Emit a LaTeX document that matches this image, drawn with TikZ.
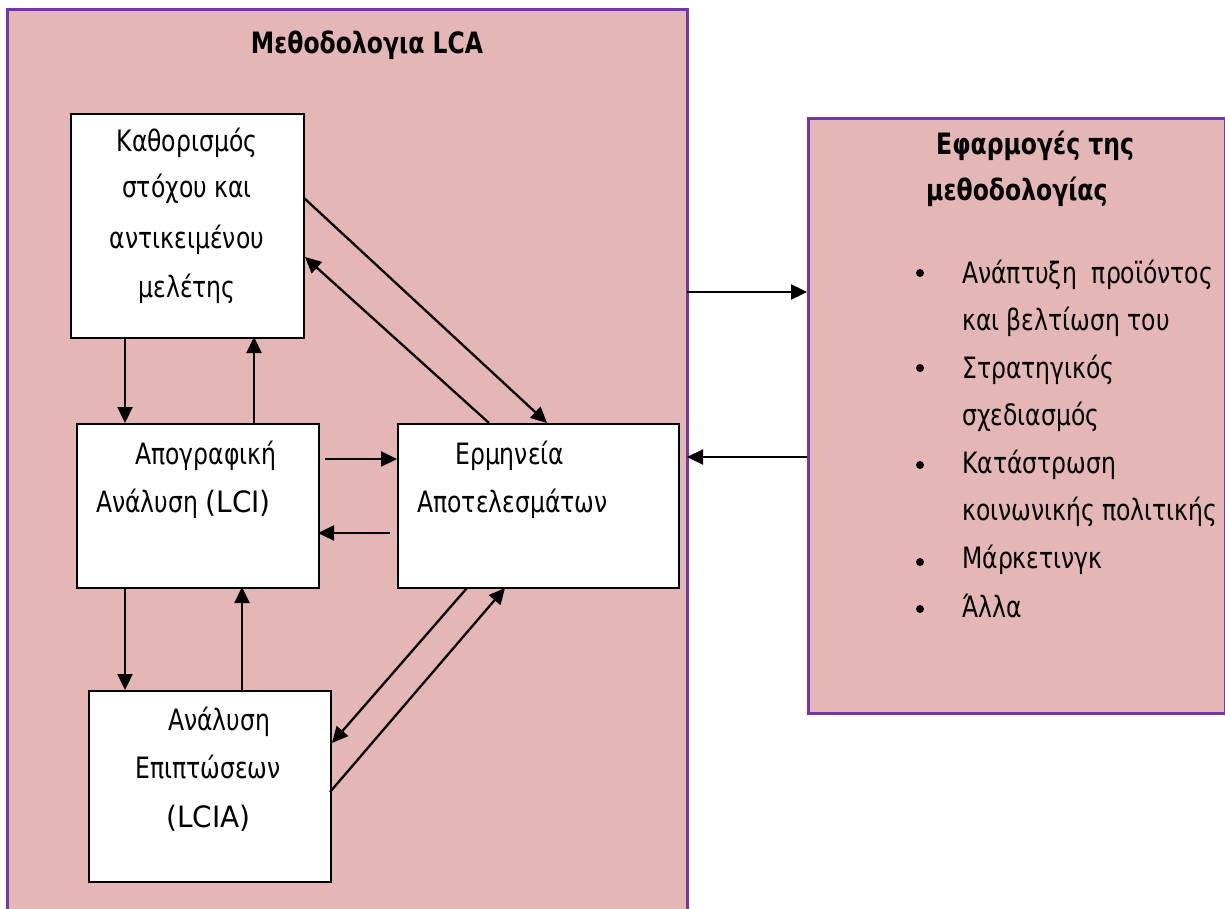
\documentclass[tikz,border=0pt]{standalone}
\usepackage{fontspec}
\setmainfont{DejaVu Sans}[FakeStretch=0.8]
\newfontfamily\latinwide{DejaVu Sans}[FakeStretch=0.95]
\usetikzlibrary{arrows.meta}
\definecolor{panelfill}{HTML}{E4B6B6}
\definecolor{panelline}{HTML}{7435A8}
\begin{document}
\begin{tikzpicture}[x=1pt,y=-1pt,
  panel/.style={draw=panelline,line width=3pt,fill=panelfill},
  stepbox/.style={draw=black,line width=1.8pt,fill=white},
  flow/.style={line width=2.3pt,-{Triangle[length=16pt,width=15pt]}},
  txt/.style={inner sep=0pt,anchor=base west,font=\fontsize{29.4}{32}\selectfont},
  ctxt/.style={txt,anchor=base},
  btxt/.style={txt,font=\fontsize{29.4}{32}\selectfont\bfseries},
  dot/.style={circle,fill=black,inner sep=0pt,minimum size=8pt}]
\useasboundingbox (0,0) rectangle (1225,909);
\fill[white] (0,0) rectangle (1225,909);

% main panel (runs past the lower edge)
\draw[panel] (7,930) -- (7,10) -- (687,10) -- (687,930);
\node[btxt,anchor=base] (title) at (367,54) {Μεθοδολογια LCA};

% the four phases
\node[stepbox,minimum width=233pt,minimum height=224pt,anchor=north west] (goal) at (70,113) {};
\node[stepbox,minimum width=242pt,minimum height=164pt,anchor=north west] (inv) at (76,423) {};
\node[stepbox,minimum width=281pt,minimum height=164pt,anchor=north west] (interp) at (397,423) {};
\node[stepbox,minimum width=242pt,minimum height=191pt,anchor=north west] (impact) at (88,690) {};

\node[ctxt] (g1) at (187,152) {Καθορισμός};
\node[ctxt] (g2) at (187,198) {στόχου και};
\node[ctxt] (g3) at (187,248) {αντικειμένου};
\node[ctxt] (g4) at (187,297) {μελέτης};

\node[txt] (i1) at (135,464) {Απογραφική};
\node[txt] (i2) at (96,512) {Ανάλυση {\latinwide(LCI)}};

\node[txt] (r1) at (455,464) {Ερμηνεία};
\node[txt] (r2) at (417,512) {Αποτελεσμάτων};

\node[txt] (m1) at (168,730) {Ανάλυση};
\node[txt] (m2) at (135,778) {Επιπτώσεων};
\node[txt] (m3) at (166,827) {\latinwide(LCIA)};

% connectors between phases
\coordinate (gb1) at (125,337);
\coordinate (ib1) at (125,423);
\draw[flow] (gb1) -- (ib1);
\coordinate (ib2) at (254,423);
\coordinate (gb2) at (254,337);
\draw[flow] (ib2) -- (gb2);

\coordinate (ga) at (304,198);
\coordinate (ra) at (547,423);
\draw[flow] (ga) -- (ra);
\coordinate (rb) at (489,423);
\coordinate (gc) at (305,257);
\draw[flow] (rb) -- (gc);

\coordinate (ia) at (325,459);
\coordinate (rc) at (397,459);
\draw[flow] (ia) -- (rc);
\coordinate (rd) at (390,533);
\coordinate (ic) at (318,533);
\draw[flow] (rd) -- (ic);

\coordinate (id) at (125,587);
\coordinate (ma) at (125,690);
\draw[flow] (id) -- (ma);
\coordinate (mb) at (242,690);
\coordinate (ie) at (242,587);
\draw[flow] (mb) -- (ie);

\coordinate (re) at (467,588);
\coordinate (mc) at (332,743);
\draw[flow] (re) -- (mc);
\coordinate (md) at (330,792);
\coordinate (rf) at (505,588);
\draw[flow] (md) -- (rf);

% applications panel
\node[panel,minimum width=417pt,minimum height=595pt,anchor=north west] (apps) at (807,117) {};
\node[btxt] (a1) at (936,155) {Εφαρμογές της};
\node[btxt] (a2) at (926,201) {μεθοδολογίας};

\node[dot] (b1) at (920,273) {};
\node[txt] (t1) at (962,283) {Ανάπτυξη\ \ προϊόντος};
\node[txt] (t2) at (962,330) {και βελτίωση του};
\node[dot] (b2) at (920,368) {};
\node[txt] (t3) at (962,378) {Στρατηγικός};
\node[txt] (t4) at (962,425) {σχεδιασμός};
\node[dot] (b3) at (920,465) {};
\node[txt] (t5) at (962,473) {Κατάστρωση};
\node[txt] (t6) at (962,520) {κοινωνικής πολιτικής};
\node[dot] (b4) at (920,562) {};
\node[txt] (t7) at (962,568) {Μάρκετινγκ};
\node[dot] (b5) at (920,609) {};
\node[txt] (t8) at (962,617) {Άλλα};

% links between the two panels
\coordinate (la) at (687,292);
\coordinate (pa) at (807,292);
\draw[flow] (la) -- (pa);
\coordinate (pb) at (807,457);
\coordinate (lb) at (687,457);
\draw[flow] (pb) -- (lb);
\end{tikzpicture}
\end{document}
